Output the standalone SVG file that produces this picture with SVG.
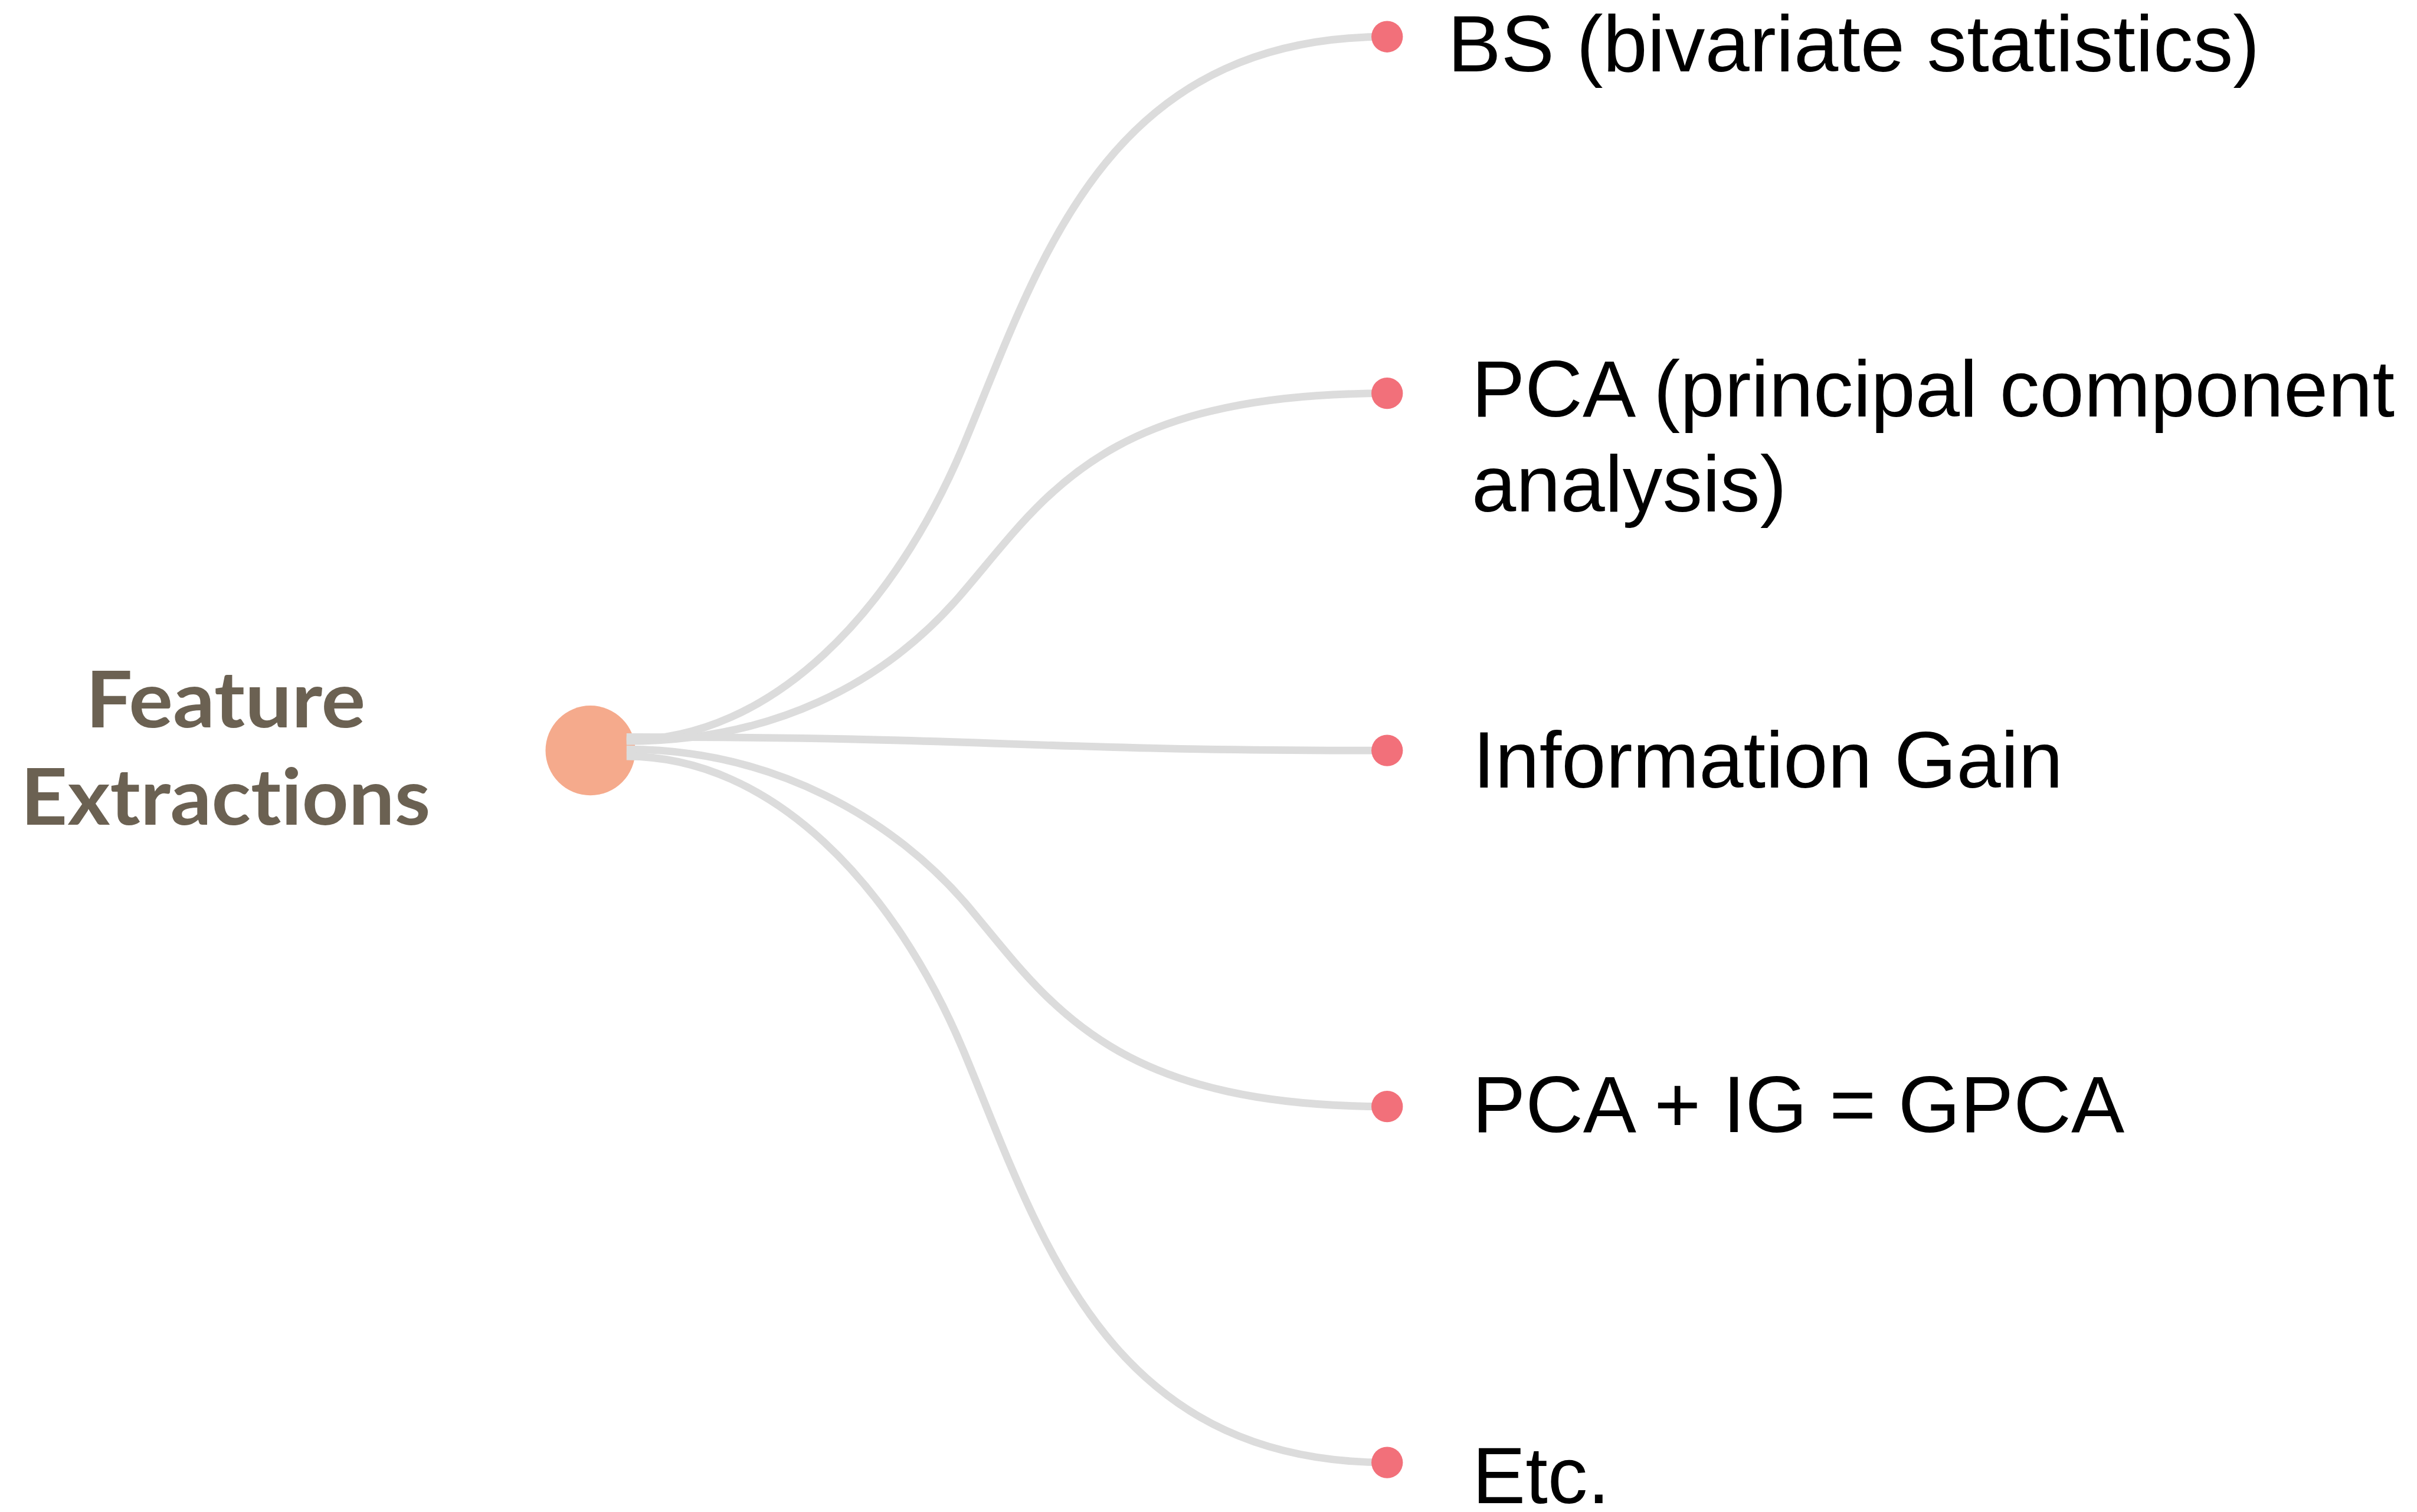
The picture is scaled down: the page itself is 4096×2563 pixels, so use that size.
<svg xmlns="http://www.w3.org/2000/svg" width="4096" height="2563" viewBox="0 0 4096 2563">
  <style>
    .link { fill: none; stroke: #dcdcdc; stroke-width: 13; stroke-linecap: butt; }
    .root { fill: #f5aa8c; }
    .leaf { fill: #f2707a; }
    .title { font-family: "Lato", "Open Sans", "Noto Sans", sans-serif; font-weight: 700; font-size: 134px; fill: #6b6152; text-anchor: middle; font-variant-ligatures: none; }
    .label { font-family: "Liberation Sans", Arial, sans-serif; font-size: 137px; fill: #000000; }
  </style>
  <rect width="4096" height="2563" fill="#ffffff"/>
  <g transform="scale(0.9877)">
    <!-- root node -->
    <g id="node-root">
      <circle class="root" cx="1013" cy="1288" r="77"/>
      <text class="title" x="387" y="1248" textLength="480" lengthAdjust="spacingAndGlyphs">Feature</text>
      <text class="title" x="387" y="1415" textLength="703" lengthAdjust="spacingAndGlyphs">Extractions</text>
    </g>
    <!-- edges: S-shaped links from the root to each leaf -->
    <g id="connectors">
      <path class="link" d="M1075,1270 C1325,1270 1535,1048 1655,760 C1785,448 1897,63 2380,63"/>
      <path class="link" d="M1075,1272 C1325,1272 1515,1174 1645,1025 C1795,852 1887,675 2380,675"/>
      <path class="link" d="M1075,1265 C1728,1265 1728,1288 2380,1288"/>
      <path class="link" d="M1075,1286 C1325,1286 1535,1404 1665,1560 C1805,1728 1913,1899 2380,1899"/>
      <path class="link" d="M1075,1298 C1325,1298 1535,1520 1655,1808 C1785,2120 1897,2510 2380,2510"/>
    </g>
    <g id="node-bs">
      <circle class="leaf" cx="2380" cy="63" r="27"/>
      <text class="label" x="2484" y="123">BS (bivariate statistics)</text>
    </g>
    <g id="node-pca">
      <circle class="leaf" cx="2380" cy="675" r="27"/>
      <text class="label" x="2525" y="715">PCA (principal component</text>
      <text class="label" x="2525" y="878">analysis)</text>
    </g>
    <g id="node-ig">
      <circle class="leaf" cx="2380" cy="1288" r="27"/>
      <text class="label" x="2527" y="1352">Information Gain</text>
    </g>
    <g id="node-gpca">
      <circle class="leaf" cx="2380" cy="1899" r="27"/>
      <text class="label" x="2526" y="1943">PCA + IG = GPCA</text>
    </g>
    <g id="node-etc">
      <circle class="leaf" cx="2380" cy="2510" r="27"/>
      <text class="label" x="2526" y="2580">Etc.</text>
    </g>
  </g>
</svg>
